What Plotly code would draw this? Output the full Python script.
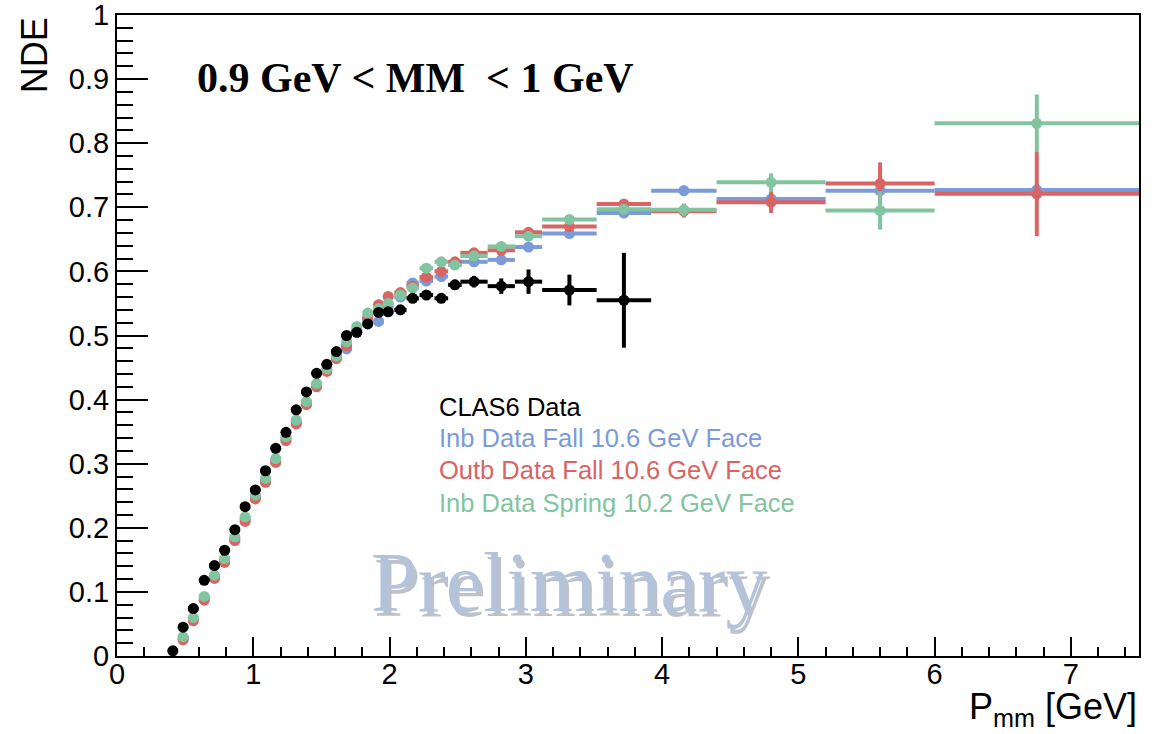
import plotly.graph_objects as go

# ---------------- data ----------------
x_clas6 = [0.41, 0.485, 0.56, 0.64, 0.715, 0.79, 0.865, 0.94, 1.015, 1.09, 1.165, 1.24,
           1.315, 1.39, 1.465, 1.54, 1.61, 1.685, 1.76, 1.84, 1.92, 1.99, 2.08, 2.17,
           2.27, 2.38, 2.48, 2.62, 2.82, 3.02, 3.32, 3.72]
y_clas6 = [0.008, 0.045, 0.074, 0.118, 0.141, 0.165, 0.197, 0.233, 0.259, 0.289, 0.324, 0.349,
           0.384, 0.412, 0.441, 0.455, 0.475, 0.500, 0.505, 0.518, 0.536, 0.537, 0.540, 0.558,
           0.563, 0.558, 0.579, 0.584, 0.577, 0.584, 0.571, 0.555]
ex_clas6 = [0.0375, 0.0375, 0.0375, 0.0375, 0.0375, 0.0375, 0.0375, 0.0375, 0.0375, 0.0375, 0.0375, 0.0375,
            0.0375, 0.0375, 0.0375, 0.0375, 0.0375, 0.0375, 0.0375, 0.0375, 0.0375, 0.0375, 0.045, 0.045,
            0.05, 0.05, 0.05, 0.1, 0.1, 0.1, 0.2, 0.2]
ey_clas6 = [0.003, 0.003, 0.003, 0.003, 0.003, 0.003, 0.003, 0.003, 0.003, 0.003, 0.003, 0.003,
            0.003, 0.003, 0.003, 0.003, 0.003, 0.003, 0.003, 0.004, 0.004, 0.004, 0.005, 0.006,
            0.006, 0.006, 0.008, 0.009, 0.012, 0.019, 0.024, 0.074]

x_face = [0.485, 0.56, 0.64, 0.715, 0.79, 0.865, 0.94, 1.015, 1.09, 1.165, 1.24, 1.315,
          1.39, 1.465, 1.54, 1.61, 1.685, 1.76, 1.84, 1.92, 1.99, 2.08, 2.17, 2.27,
          2.38, 2.48, 2.62, 2.82, 3.02, 3.32, 3.72, 4.16, 4.80, 5.60, 6.75]
ex_face = [0.0375, 0.0375, 0.0375, 0.0375, 0.0375, 0.0375, 0.0375, 0.0375, 0.0375, 0.0375, 0.0375, 0.0375,
           0.0375, 0.0375, 0.0375, 0.0375, 0.0375, 0.0375, 0.0375, 0.0375, 0.0375, 0.045, 0.045, 0.05,
           0.05, 0.05, 0.1, 0.1, 0.1, 0.2, 0.2, 0.24, 0.4, 0.4, 0.75]

y_inb_fall = [0.028, 0.058, 0.090, 0.124, 0.149, 0.183, 0.214, 0.248, 0.274, 0.305, 0.339, 0.365,
              0.395, 0.423, 0.446, 0.466, 0.479, 0.505, 0.525, 0.522, 0.545, 0.560, 0.582, 0.585,
              0.592, 0.612, 0.615, 0.618, 0.638, 0.659, 0.691, 0.726, 0.713, 0.726, 0.727]
ey_inb_fall = [0.003, 0.003, 0.003, 0.003, 0.003, 0.003, 0.003, 0.003, 0.003, 0.003, 0.003, 0.003,
               0.003, 0.003, 0.003, 0.003, 0.003, 0.003, 0.003, 0.003, 0.003, 0.004, 0.004, 0.004,
               0.004, 0.004, 0.004, 0.004, 0.005, 0.005, 0.006, 0.008, 0.009, 0.010, 0.010]

y_outb_fall = [0.025, 0.055, 0.087, 0.121, 0.146, 0.180, 0.210, 0.245, 0.271, 0.302, 0.336, 0.362,
               0.392, 0.420, 0.444, 0.464, 0.484, 0.508, 0.528, 0.548, 0.561, 0.567, 0.577, 0.591,
               0.600, 0.615, 0.629, 0.633, 0.661, 0.670, 0.705, 0.694, 0.708, 0.737, 0.721]
ey_outb_fall = [0.003, 0.003, 0.003, 0.003, 0.003, 0.003, 0.003, 0.003, 0.003, 0.003, 0.003, 0.003,
                0.003, 0.003, 0.003, 0.003, 0.003, 0.003, 0.003, 0.003, 0.003, 0.004, 0.004, 0.004,
                0.004, 0.005, 0.005, 0.006, 0.006, 0.007, 0.008, 0.010, 0.017, 0.033, 0.066]

y_inb_spring = [0.030, 0.060, 0.093, 0.126, 0.152, 0.186, 0.217, 0.251, 0.277, 0.308, 0.342, 0.368,
                0.397, 0.425, 0.448, 0.468, 0.490, 0.514, 0.535, 0.542, 0.550, 0.563, 0.574, 0.605,
                0.615, 0.610, 0.624, 0.639, 0.655, 0.681, 0.697, 0.696, 0.739, 0.695, 0.831]
ey_inb_spring = [0.003, 0.003, 0.003, 0.003, 0.003, 0.003, 0.003, 0.003, 0.003, 0.003, 0.003, 0.003,
                 0.003, 0.003, 0.003, 0.003, 0.003, 0.003, 0.003, 0.003, 0.003, 0.004, 0.004, 0.004,
                 0.004, 0.004, 0.005, 0.005, 0.006, 0.006, 0.008, 0.010, 0.014, 0.030, 0.045]

legend_labels = ["CLAS6 Data", "Inb Data Fall 10.6 GeV Face",
                 "Outb Data Fall 10.6 GeV Face", "Inb Data Spring 10.2 GeV Face"]

# ---------------- styles ----------------
C_BLACK = "#000000"
C_BLUE = "#7B9BD8"
C_RED = "#D96464"
C_GREEN = "#82C4A0"

fig = go.Figure()


def add_series(x, y, ex, ey, color, name, thick):
    fig.add_trace(go.Scatter(
        x=x, y=y, mode="markers", name=name,
        marker=dict(symbol="circle", size=11, color=color, line=dict(width=0)),
        error_x=dict(type="data", array=ex, symmetric=True, width=0, thickness=thick, color=color),
        error_y=dict(type="data", array=ey, symmetric=True, width=0, thickness=thick, color=color),
        showlegend=False,
    ))


add_series(x_face, y_inb_fall, ex_face, ey_inb_fall, C_BLUE, legend_labels[1], 4)
add_series(x_face, y_outb_fall, ex_face, ey_outb_fall, C_RED, legend_labels[2], 4)
add_series(x_face, y_inb_spring, ex_face, ey_inb_spring, C_GREEN, legend_labels[3], 4)
add_series(x_clas6, y_clas6, ex_clas6, ey_clas6, C_BLACK, legend_labels[0], 4)

# legend as text
leg_colors = [C_BLACK, C_BLUE, C_RED, C_GREEN]
leg_y = [0.389, 0.340, 0.290, 0.239]
for lab, col, yy in zip(legend_labels, leg_colors, leg_y):
    fig.add_annotation(x=2.348, y=yy, xref="x", yref="y", text=lab, showarrow=False,
                       xanchor="left", yanchor="middle",
                       font=dict(family="Liberation Sans, Arial, sans-serif", size=25.5, color=col))

# title inside plot
fig.add_annotation(x=0.572, y=0.902, xref="x", yref="y",
                   text="<b>0.9 GeV &lt; MM \u00a0&lt; 1 GeV</b>", showarrow=False,
                   xanchor="left", yanchor="middle",
                   font=dict(family="Liberation Serif, Times New Roman, serif", size=42, color="black"))

# Preliminary watermark (shadow + face)
fig.add_annotation(x=3.345, y=0.107, xref="x", yref="y", text="Preliminary", showarrow=False,
                   xanchor="center", yanchor="middle",
                   font=dict(family="Liberation Serif, Times New Roman, serif", size=84,
                             color="rgba(90,100,125,0.40)"))
fig.add_annotation(x=3.32, y=0.114, xref="x", yref="y", text="Preliminary", showarrow=False,
                   xanchor="center", yanchor="middle",
                   font=dict(family="Liberation Serif, Times New Roman, serif", size=84, color="#B3C3DA"))

# axis titles
fig.add_annotation(x=-0.081, y=1.0, xref="paper", yref="paper", text="NDE", showarrow=False,
                   textangle=-90, xanchor="center", yanchor="top",
                   font=dict(family="Liberation Sans, Arial, sans-serif", size=36, color="black"))
fig.add_annotation(x=1.0, y=-0.083, xref="paper", yref="paper",
                   text="P<sub>mm</sub> [GeV]", showarrow=False,
                   xanchor="right", yanchor="middle",
                   font=dict(family="Liberation Sans, Arial, sans-serif", size=36, color="black"))

axis_font = dict(family="Liberation Sans, Arial, sans-serif", size=29, color="black")
fig.update_xaxes(range=[0, 7.5], showgrid=False, zeroline=False, automargin=False,
                 showline=True, linecolor="black", linewidth=2, mirror=True,
                 ticks="inside", ticklen=19, tickwidth=2, tickcolor="black",
                 tick0=0, dtick=1, tickfont=axis_font, ticklabelstandoff=-9,
                 minor=dict(ticks="inside", ticklen=9, tickwidth=2, tickcolor="black", dtick=0.2, tick0=0, showgrid=False))
fig.update_yaxes(range=[0, 1.00001], showgrid=False, zeroline=False, automargin=False,
                 showline=True, linecolor="black", linewidth=2, mirror=True,
                 ticks="inside", ticklen=31, tickwidth=2, tickcolor="black",
                 tick0=0, dtick=0.1, tickfont=axis_font, ticklabeloverflow="allow",
                 minor=dict(ticks="inside", ticklen=16, tickwidth=2, tickcolor="black", dtick=0.02, tick0=0, showgrid=False))

fig.update_layout(width=1160, height=734,
                  margin=dict(l=117, r=21, t=15, b=78),
                  paper_bgcolor="white", plot_bgcolor="white")

fig.write_html("out.html")
